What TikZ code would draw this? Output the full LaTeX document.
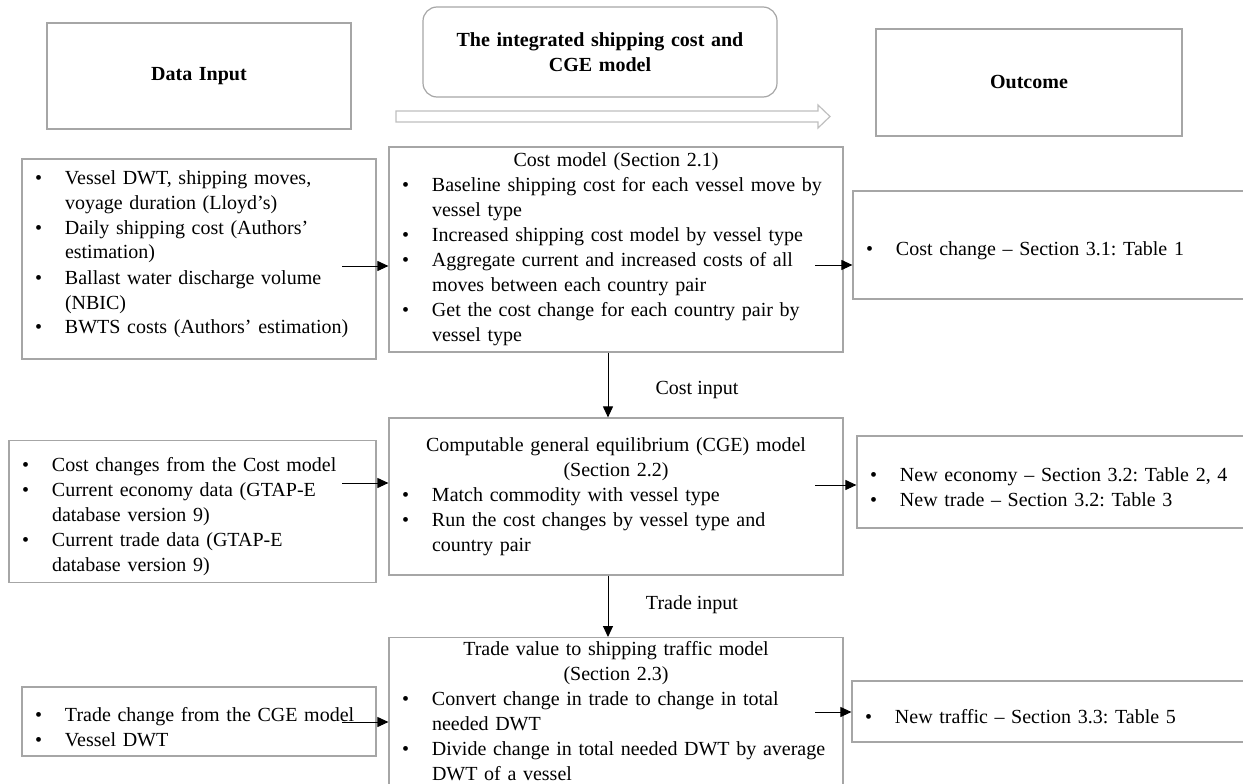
\documentclass[tikz,border=0pt]{standalone}
\usepackage{fontspec}
\setmainfont{Liberation Serif}
\usepackage{tikz}
\usetikzlibrary{arrows.meta}
\setlength{\parindent}{0pt}
\frenchspacing

\newcommand{\bpt}[1]{\par\noindent\hangindent=37pt\hangafter=1\makebox[37pt][l]{\hspace{7pt}\textbullet}#1\par}

\begin{document}
\begin{tikzpicture}[x=1pt,y=-1pt,
  font=\fontsize{20}{25}\selectfont,
  box/.style={draw=black!35, line width=1.2pt, inner xsep=6pt, inner ysep=6pt, execute at begin node=\raggedright},
  head/.style={box, font=\fontsize{20}{25}\selectfont\bfseries, execute at begin node=\centering},
  arr/.style={line width=1pt, -{Triangle[length=11pt,width=10pt]}}]

\useasboundingbox (0,0) rectangle (1243,784);
\clip (0,0) rectangle (1243,784);

% HEADERS %%%%%%%%%%%%%%%%%%%%%%%%%%%%%%%%%%%%%%%%%%%%%%%%%%%%%%%%%%%%%%%%%

\node[head, minimum width=304pt, minimum height=106pt, text width=290pt] (hdIn) at (199,76) {Data Input};
\node[head, rounded corners=14pt, minimum width=354pt, minimum height=90pt, text width=340pt] (hdModel) at (600,52) {The integrated shipping cost and\\ CGE model};
\node[head, minimum width=306pt, minimum height=107pt, text width=292pt] (hdOut) at (1029,82.5) {Outcome};

\draw[draw=black!25, line width=1.2pt] (396,111) -- (818,111) -- (818,105) -- (830,116.5) -- (818,128) -- (818,122) -- (396,122) -- cycle;

% ROW 1 %%%%%%%%%%%%%%%%%%%%%%%%%%%%%%%%%%%%%%%%%%%%%%%%%%%%%%%%%%%%%%%%%%%

\node[box, inner ysep=0pt, minimum width=354pt, minimum height=200pt, text width=342pt] (inA) at (199,259) {%
\bpt{Vessel DWT, shipping moves,\newline voyage duration (Lloyd's)}
\bpt{Daily shipping cost (Authors'\newline estimation)}
\bpt{Ballast water discharge volume\newline (NBIC)}
\bpt{BWTS costs (Authors' estimation)}
\hbox{}};

\node[box, minimum width=454pt, minimum height=205pt, text width=442pt] (costM) at (616,249.5) {%
{\centering Cost model (Section 2.1)\par}
\bpt{Baseline shipping cost for each vessel move by\newline vessel type}
\bpt{Increased shipping cost model by vessel type}
\bpt{Aggregate current and increased costs of all\newline moves between each country pair}
\bpt{Get the cost change for each country pair by\newline vessel type}};

\node[box, minimum width=397pt, minimum height=108pt, text width=385pt] (outA) at (1051.5,245) {%
\bpt{Cost change -- Section 3.1: Table 1}};

% ROW 2 %%%%%%%%%%%%%%%%%%%%%%%%%%%%%%%%%%%%%%%%%%%%%%%%%%%%%%%%%%%%%%%%%%%

\node[box, minimum width=367pt, minimum height=127pt, text width=355pt] (inB) at (192.5,511.5) {%
\bpt{Cost changes from the Cost model}
\bpt{Current economy data (GTAP-E\newline database version 9)}
\bpt{Current trade data (GTAP-E\newline database version 9)}};

\node[box, minimum width=454pt, minimum height=157pt, text width=442pt] (cgeM) at (616,496.5) {%
{\centering Computable general equilibrium (CGE) model\\ (Section 2.2)\par}
\bpt{Match commodity with vessel type}
\bpt{Run the cost changes by vessel type and\newline country pair}};

\node[box, minimum width=393pt, minimum height=92pt, text width=381pt] (outB) at (1053.5,482) {%
\bpt{New economy -- Section 3.2: Table 2, 4}
\bpt{New trade -- Section 3.2: Table 3}};

% ROW 3 %%%%%%%%%%%%%%%%%%%%%%%%%%%%%%%%%%%%%%%%%%%%%%%%%%%%%%%%%%%%%%%%%%%

\node[box, minimum width=354pt, minimum height=69pt, text width=342pt] (inC) at (199,721.5) {%
\bpt{Trade change from the CGE model}
\bpt{Vessel DWT}};

\node[box, anchor=north, minimum width=454pt, text width=442pt, inner ysep=4pt] (trafM) at (616,637) {%
{\centering Trade value to shipping traffic model\\ (Section 2.3)\par}
\bpt{Convert change in trade to change in total\newline needed DWT}
\bpt{Divide change in total needed DWT by average\newline DWT of a vessel}};

\node[box, minimum width=398pt, minimum height=61pt, text width=386pt] (outC) at (1051,711.5) {%
\bpt{New traffic -- Section 3.3: Table 5}};

% LINKS %%%%%%%%%%%%%%%%%%%%%%%%%%%%%%%%%%%%%%%%%%%%%%%%%%%%%%%%%%%%%%%%%%%

\coordinate (inAo) at (342,266);
\coordinate (costMo) at (815,265);
\coordinate (inBo) at (342,483);
\coordinate (cgeMo) at (815,485);
\coordinate (inCo) at (342,722);
\coordinate (trafMo) at (815,712);

\draw[arr] (inAo) -- (inAo -| costM.west);
\draw[arr] (costMo) -- (costMo -| outA.west);
\draw[arr] (inBo) -- (inBo -| cgeM.west);
\draw[arr] (cgeMo) -- (cgeMo -| outB.west);
\draw[arr] (inCo) -- (inCo -| trafM.west);
\draw[arr] (trafMo) -- (trafMo -| outC.west);

\draw[arr] ([xshift=-8pt]costM.south) -- ([xshift=-8pt]cgeM.north);
\draw[arr] ([xshift=-8pt]cgeM.south) -- ([xshift=-8pt]trafM.north);

% LABELS

\node (lbCost) at (697,390) {Cost input};
\node (lbTrade) at (692,605) {Trade input};

\end{tikzpicture}
\end{document}
